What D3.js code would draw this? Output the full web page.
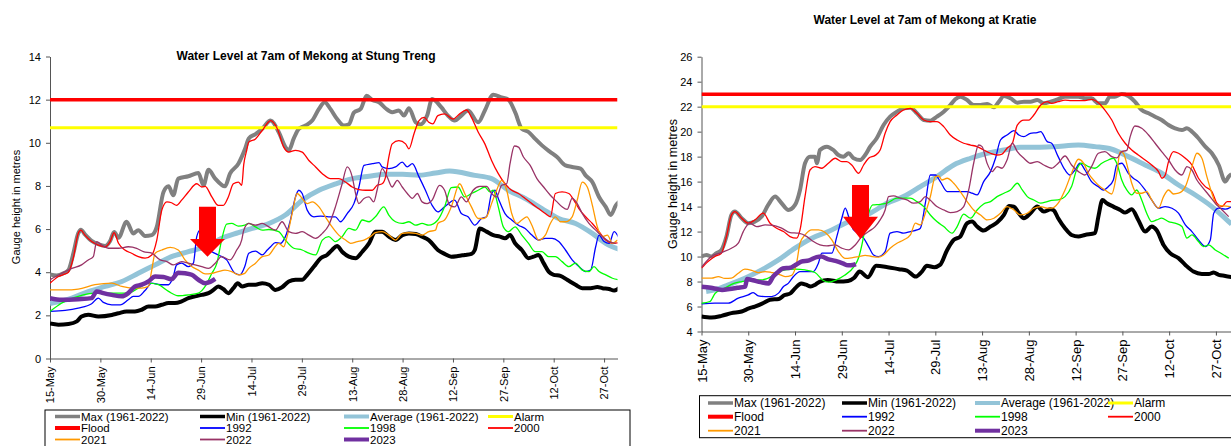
<!DOCTYPE html>
<html>
<head>
<meta charset="utf-8">
<script src="https://cdn.jsdelivr.net/npm/d3@7"></script>
<style>
body { margin: 0; background: #fff; }
svg { display: block; font-family: "Liberation Sans", Arial, sans-serif; }
.axis path, .axis line { stroke: #555; }
.axis text { fill: #000; }
.title { font-weight: bold; }
.legend text { font-family: "Liberation Sans Narrow", "Arial Narrow", "Liberation Sans", sans-serif; }
</style>
</head>
<body>
<svg id="chart" width="1231" height="446"></svg>
<script>
// days are counted from 15-May
const tickDays = [0, 15, 30, 45, 60, 75, 90, 105, 120, 135, 150, 165];

const seriesNames = ["Max (1961-2022)", "Min (1961-2022)", "Average (1961-2022)", "Alarm", "Flood",
    "1992", "1998", "2000", "2021", "2022", "2023"];
const seriesColors = ["#808080", "#000000", "#93c4d8", "#ffff00", "#ff0000",
    "#0000ff", "#00ff00", "#ff0000", "#ff9900", "#993366", "#7030a0"];
const seriesWidths = [4, 4, 5, 3, 3.5, 1.3, 1.3, 1.3, 1.3, 1.3, 4.5];
const legendWidths = [3.5, 3.5, 4, 3, 4, 1.8, 1.8, 1.8, 1.8, 1.8, 4];

// ---- Stung Treng ----
const stAlarm = 10.7, stFlood = 12;
const stMax = [[0,3.9],[2,3.85],[4,3.95],[5.5,4.1],[7,4.9],[8.4,5.8],[9.2,5.97],[10.4,5.75],[12.4,5.45],[14.4,5.3],[16.4,5.22],[17.9,5.45],[19.1,5.87],[20.4,5.6],[22.8,6.34],[24.8,5.8],[26.3,5.95],[28.3,5.68],[30.3,5.72],[31.8,6.1],[33.8,7.72],[35.3,7.98],[36.7,7.57],[38.2,8.34],[41.2,8.45],[44.2,8.6],[45.7,8.03],[47.2,8.75],[49.2,8.34],[52.1,7.98],[53.6,8.57],[56.1,9.03],[58.1,9.72],[59.2,10.2],[61.2,10.4],[63.2,10.65],[65.7,11.03],[68.1,10.5],[70.1,9.8],[71.1,9.65],[72.6,10.2],[74.1,10.65],[76.1,10.8],[78.1,11.03],[80.1,11.57],[81.8,11.88],[83.5,11.57],[85.5,11.1],[87.5,10.8],[89,10.85],[90.5,11.4],[92.5,11.57],[94.3,12.18],[96,11.98],[98,11.88],[99.9,11.6],[101.9,11.42],[103.9,11.5],[105.4,11.26],[106.9,11.6],[108.9,10.95],[110.3,10.85],[112.3,11.26],[113.8,12.03],[116.5,11.65],[118.5,11.26],[120.5,11.03],[122.5,11.26],[124.5,11.5],[127.5,10.95],[129.5,11.5],[132,12.23],[134.5,12.1],[136.5,12.0],[138.5,11.42],[140.5,10.65],[142.5,10.5],[144.5,10.18],[146.5,9.88],[149,9.57],[151,9.34],[153.5,8.95],[155.5,8.88],[158,8.8],[159.5,8.49],[161.5,8.18],[163.5,7.49],[165.5,7.03],[167,6.65],[168.5,7.1],[169.5,7.26]];
const stMin = [[0,1.62],[2.5,1.57],[5.5,1.6],[8,1.72],[9.4,1.95],[11.4,2.03],[14.4,1.95],[18.4,2.02],[20.4,2.1],[22.8,2.18],[25.3,2.18],[27.3,2.26],[29.3,2.41],[31.3,2.41],[33.3,2.49],[35.3,2.57],[37.2,2.57],[39.2,2.65],[41.2,2.8],[43.2,2.88],[45.2,2.95],[47.2,3.03],[48.7,3.18],[50.1,3.34],[51.6,3.22],[53.1,3.03],[54.6,3.26],[55.9,3.49],[57.2,3.34],[59.2,3.42],[61.2,3.42],[63.2,3.49],[65.2,3.42],[67.1,3.18],[69.1,3.3],[71.1,3.57],[73.1,3.65],[75.1,3.65],[76.6,3.88],[78.6,4.26],[80.6,4.65],[82.5,4.8],[84,5.03],[85.5,5.22],[87,4.95],[89,4.72],[91,4.65],[93,4.95],[95,5.34],[96.9,5.88],[98.9,5.88],[100.9,5.65],[102.9,5.49],[104.9,5.72],[106.9,5.8],[108.9,5.77],[110.8,5.65],[112.8,5.49],[115.5,5.03],[117.5,4.85],[119.5,4.72],[121.5,4.75],[123.5,4.8],[125.5,4.85],[126.5,5.03],[128,6.03],[130,5.88],[132,5.72],[134,5.65],[135.5,5.57],[137,5.72],[138.5,5.34],[140.5,5.03],[142.5,4.65],[144,4.72],[145.5,4.8],[147,4.42],[148.5,4.03],[150,3.88],[152,3.83],[154,3.65],[156.5,3.42],[158.5,3.26],[161,3.26],[163,3.31],[164.5,3.26],[166.5,3.22],[168,3.15],[169.5,3.26]];
const stAvg = [[0,2.55],[6.5,2.8],[11.4,3.1],[16.4,3.34],[21.4,3.57],[26.3,3.95],[31.3,4.34],[36.2,4.72],[41.2,4.95],[46.2,5.18],[51.1,5.57],[56.1,5.83],[60.2,6.03],[65.2,6.26],[70.1,6.65],[75.1,7.34],[80.1,7.8],[85.1,8.1],[90.1,8.34],[95,8.45],[100,8.54],[105,8.54],[110,8.5],[114.8,8.6],[119,8.69],[126.5,8.49],[131.5,8.34],[136.5,7.8],[141.5,7.42],[146.5,6.95],[151.5,6.49],[156.5,6.26],[161.5,5.8],[165.5,5.34],[169.5,5.06]];
const st1992 = [[0,2.18],[4.5,2.23],[8.4,2.34],[12.4,2.54],[14.4,2.8],[15.9,2.6],[18.4,2.49],[20.9,2.49],[23.3,2.72],[24.8,2.88],[26.3,2.88],[28.3,3.15],[30.3,3.49],[32.8,3.42],[35.3,3.42],[36.7,3.8],[37.7,4.34],[39.2,4.42],[41.2,4.26],[42.7,4.42],[43.7,5.65],[44.7,5.95],[46.2,5.18],[48.2,4.95],[50.1,4.8],[52.6,4.57],[55.1,3.95],[56.6,3.88],[58,4.26],[59.2,4.88],[61.2,4.98],[63.2,4.8],[64.7,5.03],[65.7,5.18],[67.1,5.37],[68.6,5.34],[70.1,5.65],[71.6,6.42],[73.1,7.49],[74.1,7.8],[75.1,7.65],[76.6,6.88],[78.6,6.57],[80.6,6.6],[83,6.57],[85,6.57],[86.5,6.34],[88.5,6.72],[90.5,7.18],[92,7.95],[93.5,8.95],[96,9.03],[98,9.08],[98.9,8.88],[100.9,8.8],[102.9,8.88],[104.9,9.1],[106.4,8.88],[107.9,9.03],[109.9,8.42],[111.8,7.8],[113.8,7.1],[115.5,6.8],[117.5,7.03],[120.5,7.34],[122.5,6.72],[124.5,6.57],[126.5,6.18],[128.5,6.49],[130,6.57],[131.5,7.65],[132.5,7.8],[133.5,7.42],[135.5,6.72],[137.5,6.42],[139.5,6.18],[141.5,6.03],[143.5,5.72],[145.5,5.49],[147.5,5.57],[149.5,5.57],[151.5,5.42],[153.5,5.03],[155.5,4.57],[157.5,4.26],[159.5,4.03],[161,4.1],[162.5,5.18],[163.5,5.72],[165,5.42],[166.5,5.34],[168,5.88],[169.5,5.57]];
const st1998 = [[0,2.18],[3.5,2.57],[8.4,2.88],[13.4,3.03],[18.4,3.03],[23.3,3.03],[26.3,3.26],[29.3,3.49],[32.3,3.42],[35.3,3.11],[38.2,2.91],[41.2,2.95],[44.2,3.03],[46.2,3.34],[48.2,3.95],[49.7,4.42],[51.1,5.49],[52.6,6.23],[54.1,6.26],[56.1,6.14],[58,6.18],[59.2,6.26],[61.2,6.1],[63.2,5.95],[65.2,5.98],[68.1,5.88],[70.1,5.49],[72.6,5.11],[75.1,5.03],[77.1,4.88],[79.1,4.8],[81.1,5.49],[83,5.65],[85,5.42],[87,5.65],[89,6.03],[91,5.95],[93,6.42],[95,6.34],[96.9,6.57],[99.4,7.03],[100.9,6.65],[102.9,6.34],[104.9,6.26],[106.9,6.34],[108.9,6.18],[110.8,6.26],[112.8,6.18],[115.5,6.42],[117.5,7.03],[119.5,7.92],[121.5,7.95],[123.5,7.49],[125.5,7.65],[127.5,7.8],[129.5,7.95],[131,7.72],[132,7.8],[133.5,7.03],[135,6.1],[136.5,5.88],[138.5,6.1],[140.5,5.72],[142.5,5.34],[144.5,4.95],[146.5,4.95],[148.5,4.72],[150.5,4.72],[152.5,4.49],[154.5,4.26],[156.5,4.42],[158.5,4.1],[160.5,4.03],[162,4.26],[163.5,4.03],[165.5,3.88],[167.5,3.72],[169.5,3.65]];
const st2000 = [[0,3.49],[2.5,3.8],[4.5,3.92],[5.5,4.0],[7,4.7],[8.4,5.8],[9.2,5.95],[10.4,5.72],[12.4,5.42],[14.4,5.26],[16.4,5.18],[17.9,5.42],[19.1,5.83],[20.4,5.34],[22.3,5.03],[24.3,4.88],[26.3,4.72],[28.3,4.65],[30.3,4.8],[31.8,5.49],[33.3,6.88],[34.8,7.26],[36.2,7.22],[37.7,7.1],[39.2,7.34],[41.2,7.72],[43.7,8.1],[45.2,7.95],[46.2,7.98],[48.2,7.49],[50.1,7.1],[51.6,7.1],[53.1,7.49],[54.6,8.1],[56.1,8.18],[57.1,8.03],[57.7,9.0],[58.5,9.6],[59.2,10.03],[61.2,10.18],[63.2,10.57],[65.7,11.03],[67.7,10.65],[69.6,9.8],[71.1,9.57],[73.1,9.65],[75.1,9.57],[77.1,9.18],[79.1,8.88],[81.1,8.57],[83.5,8.34],[86,8.34],[88,8.18],[90,7.95],[92,7.83],[94,7.8],[96,7.8],[97.4,8.03],[98.9,8.1],[99.9,8.4],[100.9,9.34],[101.9,9.95],[103.9,10.1],[105.9,9.95],[106.9,9.72],[108.4,10.42],[109.9,11.03],[111.4,11.18],[112.8,10.95],[114,10.88],[115.5,11.26],[117.5,11.34],[120,11.1],[122,11.34],[124,11.52],[125.5,11.18],[127.5,10.5],[129.5,9.95],[131.5,9.18],[133.5,8.57],[135.5,8.1],[137.5,7.8],[139.5,7.65],[141.5,7.42],[143.5,7.18],[145.5,6.95],[147.5,6.72],[149,6.57],[150.5,7.65],[152.5,7.72],[154.5,7.65],[156,7.34],[157.5,6.95],[159.5,6.57],[161.5,6.26],[163.5,5.88],[165.5,5.49],[167.5,5.34],[169.5,5.37]];
const st2021 = [[0,3.18],[4.5,3.18],[8.4,3.22],[13.4,3.42],[18.4,3.49],[21.4,3.34],[24.3,3.26],[27.3,3.26],[29.3,3.34],[30.3,4.1],[31.3,4.88],[33.3,5.03],[35.8,5.15],[38.2,5.03],[40.2,4.57],[42.2,4.26],[44.2,4.1],[46.2,3.92],[48.2,3.95],[50.1,4.03],[52.1,4.1],[54.1,4.03],[56.1,3.88],[58,3.95],[59.2,4.18],[61.2,4.42],[63.2,4.72],[65.2,4.8],[66.7,5.11],[68.1,5.34],[69.6,5.18],[70.6,5.65],[72.1,6.72],[73.6,7.65],[75.1,7.42],[76.6,7.18],[78.1,7.26],[80.1,7.03],[82,6.57],[84,6.1],[86,5.72],[88,5.49],[89.5,5.34],[91.5,5.42],[93.5,5.49],[95.4,5.65],[96.9,5.83],[98.9,5.88],[100.9,5.72],[102.9,5.49],[104.9,5.8],[106.9,5.83],[108.9,5.8],[110.8,5.72],[112.8,5.88],[114.8,5.95],[115.5,6.26],[117.5,6.42],[119.5,7.03],[122,8.1],[123.5,7.65],[125.5,7.03],[127.5,6.49],[129,6.49],[130,6.57],[131.5,7.18],[133,7.8],[134.5,8.26],[136,7.8],[137.5,6.72],[139,6.26],[140.5,6.42],[142,6.57],[143.5,6.18],[145.5,5.49],[147.5,5.72],[149,6.26],[150.5,6.57],[152,6.34],[153.5,6.34],[155.5,6.57],[157,7.34],[158.5,8.18],[160,7.95],[161.5,7.11],[163,6.1],[164.5,5.65],[166,5.72],[167.5,5.34],[169,5.49]];
const st2022 = [[0,3.65],[3.5,3.95],[6.5,4.18],[9.4,4.34],[11.4,4.57],[12.9,4.72],[13.9,5.42],[15.4,5.26],[17.4,5.11],[20.4,5.11],[23.3,5.18],[25.8,5.11],[27.8,4.95],[30.3,4.88],[32.8,4.57],[34.8,4.49],[36.7,4.34],[39.2,4.49],[41.2,4.42],[43.2,4.34],[45.2,4.26],[47.2,4.18],[49.2,4.42],[51.1,4.72],[53.6,4.57],[55.6,5.03],[57.1,5.5],[57.7,5.95],[59.2,6.26],[61.2,6.18],[63.2,6.26],[65.2,6.1],[67.1,5.95],[69.1,6.34],[71.1,5.88],[73.1,5.8],[75.1,5.88],[77.1,5.72],[79.1,5.57],[81.1,5.8],[83,6.18],[85,7.03],[87,8.1],[88.5,8.88],[90,8.42],[91,7.65],[92,7.18],[93.5,7.42],[95,7.49],[96.4,7.26],[97.4,7.8],[98.9,8.8],[100.4,8.42],[101.9,7.95],[103.4,8.26],[104.9,7.95],[106.4,7.65],[107.9,7.42],[109.4,7.65],[110.8,7.26],[112.3,7.18],[113.8,7.34],[116,8.03],[117.5,7.8],[119,7.11],[120.5,7.03],[122.5,7.49],[124,7.26],[126,7.8],[128,7.98],[130,7.98],[131.5,7.65],[133,7.49],[134.5,8.03],[136,8.1],[137,9.03],[138.3,9.85],[139.5,9.8],[141,9.34],[143,8.95],[145,8.34],[147,7.95],[149,7.57],[151,7.26],[152.5,7.03],[154,6.91],[155.5,7.42],[157,7.18],[158.5,6.72],[160.5,6.26],[162.5,5.95],[164.5,5.65],[166.5,5.42],[168.5,5.34]];
const st2023 = [[0,2.8],[3.5,2.72],[8.4,2.75],[12.4,2.8],[13.9,3.11],[15.9,3.03],[18.4,2.95],[21.4,2.88],[23.3,3.03],[25.3,3.34],[27.3,3.42],[29.3,3.57],[31.3,3.8],[33.8,3.78],[36.2,3.68],[38.2,3.98],[40.2,3.95],[42.2,3.88],[44.2,3.65],[46.2,3.49],[47.7,3.55],[49.2,3.69]];

// ---- Kratie ----
const krAlarm = 22, krFlood = 23;
const krMax = [[0,10.0],[1.6,10.13],[3.2,10.0],[4.8,10.27],[6.4,10.53],[8,11.6],[9.6,13.33],[10.7,13.6],[12.9,13.07],[15,12.67],[17.1,12.8],[19.3,13.2],[21.4,14.13],[23.6,14.8],[25.7,14.27],[27.9,13.73],[30,14.13],[31.6,15.33],[33.2,17.47],[34.8,18.0],[36.4,18.0],[37,17.47],[38,18.53],[40.2,18.8],[42.3,18.53],[43.9,18.13],[45.5,18.0],[47.2,18.27],[48.8,17.87],[50.9,17.73],[52.5,18.13],[54.1,18.8],[56.2,19.47],[58.4,20.53],[60.5,21.2],[62.7,21.6],[64.8,21.87],[67,21.92],[69.1,21.47],[71.3,20.93],[73.4,20.88],[75.5,21.2],[77.7,21.6],[79.8,22.13],[81.4,22.59],[83,22.8],[85.2,22.53],[87.3,22.13],[89.5,22.13],[91.6,22.21],[93.8,21.95],[95.4,22.4],[97,22.85],[99.1,22.67],[101.3,22.32],[103.4,22.4],[105.5,22.4],[107.7,22.53],[109.8,22.27],[112,22.4],[114.4,22.6],[116.6,22.8],[118.7,22.8],[120.9,22.8],[123,22.67],[125.1,22.67],[127.3,22.27],[129.4,22.27],[131,22.8],[132.6,22.8],[134.8,23.01],[136.9,22.85],[139,22.4],[141.2,21.73],[143.4,21.47],[145.5,21.2],[147.6,20.93],[149.8,20.53],[151.9,20.27],[154.1,20.13],[155.7,20.27],[157.3,20.0],[159.4,19.47],[161.6,18.8],[163.7,18.27],[165.9,17.33],[168,16.0],[169.1,16.4],[170,16.6]];
const krMin = [[0,5.2],[3.2,5.12],[6.4,5.25],[9.6,5.47],[12.9,5.6],[15.2,5.85],[17.1,6.0],[20,6.3],[22,6.55],[24.8,6.6],[26.5,6.9],[28.5,7.05],[30,7.45],[32,7.85],[33.5,7.75],[35,7.6],[36.5,7.75],[38,8.0],[40.5,8.13],[44,8.0],[47,8.05],[49,8.3],[50.7,8.8],[53.4,8.35],[56,9.26],[59.7,9.15],[63.3,8.99],[65.9,8.88],[68.7,8.4],[70.7,8.8],[72.3,9.26],[74.7,9.15],[76.5,9.33],[78.8,10.53],[80.9,11.33],[83,11.6],[85.2,12.67],[86.8,12.8],[88.4,12.4],[90.5,12.08],[92.7,12.4],[94.8,12.72],[97,13.33],[98.6,14.05],[100.2,14.0],[101.8,13.47],[103.4,13.07],[105.5,13.47],[107.7,14.0],[109.8,13.6],[112,13.79],[113,13.7],[114.4,13.07],[116.6,12.27],[118.7,11.73],[120.9,11.6],[123,11.73],[126.2,11.87],[127.3,13.2],[128.6,14.53],[130,14.27],[132.1,14.0],[134.3,13.73],[135.9,13.52],[138,13.79],[140.1,12.93],[142.3,12.0],[144.4,12.4],[146,12.1],[148.2,10.93],[150.3,10.27],[153,9.87],[155.2,9.33],[157.8,8.8],[160.5,8.61],[162.7,8.61],[164.3,8.72],[165.9,8.53],[168,8.45],[170,8.35]];
const krAvg = [[1.5,7.2],[4.3,7.33],[8.6,7.73],[13.9,8.27],[19.3,8.93],[24.7,9.73],[30,10.67],[35.4,11.47],[40.7,12.0],[46.1,12.67],[51.4,13.2],[54.1,13.47],[59.5,14.27],[64.8,14.8],[70.2,15.6],[75.5,16.4],[80.9,17.33],[86.3,17.87],[91.6,18.27],[97,18.53],[102.3,18.75],[107.7,18.75],[113.1,18.8],[120.9,18.93],[126.2,18.8],[131.6,18.59],[136.9,18.0],[142.3,17.33],[147.6,16.67],[153,15.73],[158.4,14.93],[163.7,14.0],[169.1,12.8],[170,12.6]];
const kr1992 = [[0,6.21],[4.3,6.27],[8.6,6.27],[11.8,6.67],[15,6.93],[16.6,7.12],[18.2,6.85],[20.4,6.8],[22.5,6.8],[24.7,7.07],[26.3,7.6],[27.9,7.87],[29.5,8.4],[31.6,8.8],[33.8,8.8],[35.9,8.8],[37.5,9.47],[38.6,10.27],[40.2,10.27],[41.8,10.27],[43.4,11.6],[45,13.07],[46.1,13.87],[47.2,13.2],[48.8,12.13],[50.4,11.87],[52,11.47],[53.6,10.8],[55.2,10.13],[56.8,10.0],[58.9,10.4],[60.5,11.87],[62.7,12.0],[64.8,11.87],[67,12.0],[69.1,12.13],[70.2,12.27],[71.8,14.27],[73.4,16.53],[75,16.53],[76.6,16.0],[78.8,15.2],[80.9,15.2],[83,15.2],[85.2,15.2],[86.8,15.07],[88.4,14.93],[90.5,16.0],[92.7,16.8],[94.3,17.87],[95.9,19.33],[98,19.73],[100.2,20.08],[101.8,19.73],[103.4,19.6],[105.5,19.87],[107.7,19.92],[108.8,20.0],[110.9,19.2],[112.3,19.07],[114.4,18.0],[116.6,16.93],[118.2,16.53],[119.8,16.93],[121.4,17.47],[123,16.93],[125.1,16.0],[127.3,15.6],[128.9,15.33],[130.5,15.6],[132.1,16.13],[133.2,17.33],[134.8,17.47],[136.9,16.67],[138.5,16.27],[140.1,16.0],[142.3,15.33],[144.4,14.53],[146.6,13.87],[148.7,14.0],[150.9,13.87],[153,13.47],[155.2,12.53],[157.3,12.0],[159.4,11.33],[161.6,10.8],[163.2,11.33],[164.3,13.47],[165.9,13.87],[168,13.79],[170,14.0]];
const kr1998 = [[0,6.26],[2.7,6.4],[4.4,7.06],[7,7.4],[10.4,7.86],[13,8.0],[16.4,8.13],[19.3,8.13],[22.4,8.4],[23.6,8.61],[26.8,8.93],[30,8.99],[33.2,8.93],[36.4,8.72],[39.1,8.08],[40.7,7.95],[42.9,8.1],[45.9,8.5],[48.9,9.2],[50.4,9.9],[51.5,11.0],[53,12.93],[54.9,14.13],[57.3,14.18],[59.5,14.27],[62.7,14.67],[64.8,14.67],[67,14.67],[69.1,14.4],[71.3,14.0],[73.4,13.33],[75.5,12.8],[77.7,12.4],[80.4,11.87],[82,12.4],[84.1,13.39],[86.3,13.07],[88.4,13.73],[90.5,14.21],[92.7,14.4],[94.8,14.8],[97,15.07],[99.1,15.33],[101.3,15.87],[102.9,15.33],[104.5,14.8],[106.6,14.53],[108.8,14.27],[110.9,14.4],[112.3,14.5],[114.4,14.53],[116.6,14.8],[118.7,15.6],[120.3,16.93],[121.9,17.47],[124.1,17.2],[126.2,17.07],[128.4,17.47],[130.5,17.73],[132.1,17.87],[133.2,17.47],[134.8,16.13],[136.4,15.33],[138,14.93],[139.6,15.33],[141.2,14.53],[142.8,13.47],[144.4,12.8],[146,12.93],[147.6,13.07],[149.8,12.8],[151.9,12.67],[154.1,12.4],[155.7,11.47],[157.3,11.73],[159.4,11.2],[161,10.8],[162.7,10.93],[164.8,10.53],[167,10.21],[169.1,9.87]];
const kr2000 = [[0,9.07],[2.1,9.6],[4.3,10.0],[6.4,10.27],[8,11.6],[9.6,13.33],[10.7,13.6],[12.9,13.07],[15,12.67],[17.1,12.93],[19.8,13.47],[22,12.67],[24.1,12.27],[26.3,12.0],[28.4,11.6],[30.5,11.47],[31.6,12.13],[33.2,14.8],[34.8,16.93],[36.4,17.2],[38.6,17.07],[40.7,17.47],[42.9,17.87],[45,17.6],[46.6,17.6],[48.2,17.33],[50.4,16.67],[52,17.33],[53.6,17.87],[55.7,18.1],[57.3,18.53],[58.9,19.87],[60.5,20.8],[62.7,21.33],[64.8,21.73],[67,21.87],[69.1,21.47],[71.3,20.93],[73.4,20.8],[75.5,20.8],[77.7,20.4],[79.8,19.73],[82,19.33],[84.1,19.07],[86.3,18.93],[88.4,18.8],[90.5,18.53],[92.7,18.27],[94.8,18.13],[96.4,18.2],[98,18.67],[99.7,19.07],[101.3,20.53],[103.4,20.93],[105,20.93],[106.6,21.33],[108.8,22.13],[110.9,22.4],[112.3,22.27],[114.4,22.4],[116.6,22.53],[118.7,22.48],[120.9,22.48],[123,22.48],[125.1,22.59],[127.3,22.32],[129.4,21.73],[131.6,20.93],[133.7,19.87],[135.9,19.07],[138,18.53],[140.1,18.13],[142.3,17.73],[144.4,17.33],[146.6,16.8],[147.7,16.27],[148.7,16.5],[149.8,17.6],[151.4,18.4],[153,18.27],[155.2,17.87],[157.3,17.33],[159.4,16.27],[161.6,15.6],[163.7,15.2],[165.3,14.27],[166.9,14.0],[168.6,14.4],[170,14.4]];
const kr2021 = [[0,8.27],[3.2,8.27],[5.4,8.4],[7.5,8.25],[9.6,8.27],[11.8,8.67],[13.9,8.99],[16.1,8.9],[18.2,8.72],[20.4,8.8],[22.5,8.72],[24.7,8.6],[26.8,8.4],[28.9,8.5],[30.5,9.47],[31.6,11.07],[33.2,11.73],[35.4,12.13],[37.5,12.13],[39.7,11.92],[41.8,11.33],[43.9,10.4],[46.1,9.85],[48.2,9.9],[50.4,10.0],[52.5,10.1],[54.7,10.0],[56.8,9.95],[58.4,10.13],[60.5,10.67],[62.7,11.07],[64.8,11.33],[67,11.73],[68.6,12.67],[70.2,12.53],[71.8,13.47],[73.4,14.8],[75,16.4],[76.1,16.45],[77.1,16.13],[78.8,16.27],[80.9,15.87],[83,15.2],[85.2,14.4],[87.3,13.73],[89.5,13.33],[91.6,12.93],[93.8,13.07],[95.9,13.47],[98,14.0],[100.2,13.73],[102.3,13.33],[104.5,13.47],[106.6,13.87],[108.8,14.0],[110.9,13.87],[112.3,13.87],[114.4,14.27],[116.6,15.33],[118.7,16.67],[120.9,17.79],[122.5,17.5],[124.1,16.67],[126.2,16.0],[127.8,15.6],[129.4,15.33],[131.6,15.01],[133.2,16.67],[134.3,18.4],[135.3,18.27],[136.9,16.93],[138,15.87],[139.6,15.07],[141.2,15.07],[142.8,15.2],[144.4,14.53],[146.6,13.87],[148.2,14.8],[149.8,15.33],[151.4,15.01],[153,15.07],[155.2,15.6],[157.3,17.2],[158.9,18.27],[160.5,17.87],[162.1,16.4],[163.7,15.07],[165.3,14.13],[167.5,14.05],[169.6,14.0]];
const kr2022 = [[0,9.15],[3.2,10.0],[6.4,10.32],[9.6,10.67],[11.8,11.07],[13.4,12.0],[15.5,12.67],[17.7,12.4],[20.4,12.53],[23,12.5],[25.7,12.27],[28.4,11.92],[31.1,11.87],[33.8,11.6],[35.9,11.2],[38,10.93],[40.2,10.85],[42.9,10.93],[45,10.67],[47.2,10.53],[49.3,10.93],[51.4,11.6],[53.6,12.0],[55.7,12.4],[57.3,12.93],[58.9,13.73],[60,14.8],[61.6,14.85],[63.8,14.67],[65.9,14.53],[68,14.27],[70.2,14.4],[71.8,14.8],[73.4,14.5],[75.5,14.0],[77.7,13.73],[79.8,13.52],[82,13.6],[84.1,14.0],[85.7,15.33],[87.3,17.47],[88.9,18.93],[90,18.8],[91.6,17.47],[93.2,16.8],[94.8,17.2],[96.4,17.07],[98,17.73],[99.7,19.07],[101.3,18.4],[103.4,17.87],[105.5,17.47],[107.7,17.6],[109.8,17.33],[112.3,17.07],[114.4,17.47],[116.6,18.05],[118.7,17.33],[120.9,16.8],[123,16.53],[125.1,17.2],[127.3,18.27],[129.4,18.4],[131.6,18.0],[133.2,17.9],[134.8,18.4],[136.4,18.5],[137.5,19.6],[139,20.45],[141.2,20.27],[143.4,19.73],[145.5,19.07],[147.6,18.4],[149.8,17.73],[151.9,16.93],[154.1,16.53],[155.7,17.2],[157.3,16.93],[158.9,16.13],[160.5,15.6],[162.7,14.93],[164.8,14.27],[167,13.73],[169.1,13.2]];
const kr2023 = [[0,7.59],[3,7.5],[5,7.4],[6.6,7.33],[9,7.4],[11.5,7.5],[14,7.6],[14.6,8.2],[16.5,8.1],[19,7.95],[21.5,7.85],[23,8.4],[24.5,8.75],[26,9.05],[28.5,9.1],[30,9.3],[32,9.6],[34.5,9.7],[36.9,9.95],[38.5,10.0],[40.5,9.8],[43,9.65],[45.3,9.46],[47,9.3],[48.9,9.35],[49.5,9.4]];

const startDate = new Date(2023, 4, 15),
    formatTime = d3.timeFormat("%-d-%b");
const toDate = d => new Date(startDate.getTime() + d * 864e5);

const svg = d3.select("#chart");
svg.append("rect").attr("width", 1231).attr("height", 446).attr("fill", "#fff");

function makeChart(o) {
    const g = svg.append("g");
    const xScale = d3.scaleTime()
        .domain([toDate(0), toDate(o.lastDay)])
        .range([o.left, o.right]);
    const yScale = d3.scaleLinear()
        .domain([o.yMin, o.yMax])
        .range([o.bottom, o.top]);

    const clipId = "clip" + o.id;
    g.append("clipPath").attr("id", clipId)
        .append("rect")
        .attr("x", o.left).attr("y", o.top - 10)
        .attr("width", o.right - o.left).attr("height", o.bottom - o.top + 10);

    // y axis
    g.append("g")
        .attr("class", "axis")
        .attr("transform", `translate(${o.left},0)`)
        .call(d3.axisLeft(yScale).tickValues(d3.range(o.yMin, o.yMax + 1, 2)).tickSize(4).tickSizeOuter(0).tickPadding(5))
        .selectAll("text")
        .style("font-size", "11px");

    // x axis
    g.append("g")
        .attr("class", "axis")
        .attr("transform", `translate(0,${o.bottom})`)
        .call(d3.axisBottom(xScale).tickValues(tickDays.map(toDate)).tickFormat(formatTime).tickSize(4).tickSizeOuter(0))
        .selectAll("text")
        .attr("y", 0)
        .attr("x", -8)
        .attr("dy", ".35em")
        .attr("transform", "rotate(-90)")
        .style("text-anchor", "end")
        .style("font-size", o.xFont + "px");

    const line = d3.line()
        .x(d => xScale(toDate(d[0])))
        .y(d => yScale(d[1]))
        .curve(d3.curveMonotoneX);

    const plot = g.append("g").attr("clip-path", `url(#${clipId})`);
    o.series.forEach(function (s, i) {
        // alarm and flood are single levels, drawn across the whole period
        const pts = typeof s === "number" ? [[0, s], [o.lastDay, s]] : s;
        plot.append("path")
            .datum(pts)
            .attr("fill", "none")
            .attr("stroke", seriesColors[i])
            .attr("stroke-width", seriesWidths[i])
            .attr("stroke-linejoin", "round")
            .attr("d", line);
    });

    // red arrow pointing at the 2023 line
    const ax = xScale(toDate(o.arrow.day)),
        aTop = yScale(o.arrow.top),
        aNeck = yScale(o.arrow.neck),
        aTip = yScale(o.arrow.tip);
    g.append("path")
        .attr("fill", "#ff0000")
        .attr("d", `M${ax - 8.5},${aTop}H${ax + 8.5}V${aNeck}H${ax + 17.5}L${ax},${aTip}L${ax - 17.5},${aNeck}H${ax - 8.5}Z`);

    g.append("text")
        .attr("class", "title")
        .attr("x", o.titleX)
        .attr("y", o.titleY)
        .attr("text-anchor", "middle")
        .style("font-size", o.titleFont + "px")
        .text(o.title);

    g.append("text")
        .attr("transform", `translate(${o.labelX},${o.labelY}) rotate(-90)`)
        .attr("text-anchor", "middle")
        .style("font-size", o.labelFont + "px")
        .text("Gauge height in metres");

    // legend
    const lg = g.append("g").attr("class", "legend");
    lg.append("rect")
        .attr("x", o.legend.x).attr("y", o.legend.y)
        .attr("width", o.legend.w).attr("height", o.legend.h)
        .attr("fill", "#fff").attr("stroke", "#000").attr("stroke-width", 1);
    seriesNames.forEach(function (name, i) {
        const col = i % 4, row = Math.floor(i / 4);
        const lx = o.legend.colX[col], ly = o.legend.rowY[row];
        lg.append("line")
            .attr("x1", lx).attr("x2", lx + 25)
            .attr("y1", ly).attr("y2", ly)
            .attr("stroke", seriesColors[i])
            .attr("stroke-width", legendWidths[i]);
        lg.append("text")
            .attr("x", lx + 26)
            .attr("y", ly)
            .attr("dy", "0.35em")
            .style("font-size", o.legend.font + "px")
            .text(name);
    });
}

makeChart({
    id: "st", left: 50, right: 617.5, top: 56.5, bottom: 358.5, lastDay: 169,
    yMin: 0, yMax: 14, xFont: 11,
    series: [stMax, stMin, stAvg, stAlarm, stFlood, st1992, st1998, st2000, st2021, st2022, st2023],
    arrow: {day: 46.9, top: 7.04, neck: 5.54, tip: 4.72},
    title: "Water Level at 7am of Mekong at Stung Treng", titleX: 306, titleY: 60, titleFont: 12,
    labelX: 20, labelY: 207, labelFont: 11,
    legend: {x: 45, y: 410, w: 585, h: 45, font: 11.5, colX: [55, 200, 344, 488], rowY: [416.5, 428, 439.5]}
});

makeChart({
    id: "kr", left: 701.5, right: 1231.5, top: 56.7, bottom: 331.5, lastDay: 170,
    yMin: 4, yMax: 26, xFont: 13,
    series: [krMax, krMin, krAvg, krAlarm, krFlood, kr1992, kr1998, kr2000, kr2021, kr2022, kr2023],
    arrow: {day: 51, top: 15.73, neck: 13.19, tip: 11.4},
    title: "Water Level at 7am of Mekong at Kratie", titleX: 925, titleY: 24, titleFont: 12,
    labelX: 677, labelY: 184, labelFont: 12.5,
    legend: {x: 699.5, y: 395.7, w: 540, h: 42, font: 12, colX: [708, 842, 975, 1108], rowY: [403, 416.7, 430.7]}
});
</script>
</body>
</html>
